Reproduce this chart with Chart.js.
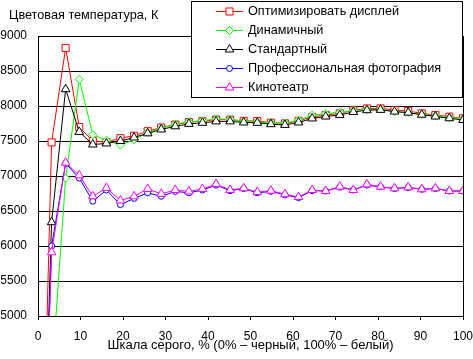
<!doctype html>
<html lang="ru">
  <head>
    <meta charset="utf-8">
    <title>Цветовая температура</title>
    <script src="https://cdn.jsdelivr.net/npm/chart.js@4.4.0/dist/chart.umd.min.js"></script>
    <style>
      body { margin: 0; background: #fff; }
    </style>
  </head>
  <body>
    <canvas id="tempChart" width="473" height="359"></canvas>

  <script>
    // grey level, % (0% - black, 100% - white)
    var grey = [0, 3.2, 6.5, 9.7, 12.9, 16.1, 19.4, 22.6, 25.8, 29.0, 32.3, 35.5, 38.7, 41.9, 45.2, 48.4,
                51.6, 54.8, 58.1, 61.3, 64.5, 67.7, 71.0, 74.2, 77.4, 80.6, 83.9, 87.1, 90.3, 93.5, 96.8, 100];

    var optimize = [0, 7480, 8830, 7700, 7500, 7485, 7540, 7575, 7640, 7692, 7735, 7770, 7783, 7805, 7805, 7788,
                    7785, 7762, 7752, 7788, 7845, 7870, 7895, 7940, 7965, 7965, 7943, 7928, 7895, 7870, 7848, 7824];
    var dynamic = [0, 4100, 6970, 8380, 7590, 7510, 7440, 7520, 7620, 7680, 7740, 7775, 7790, 7815, 7810, 7780,
                   7770, 7760, 7755, 7800, 7870, 7890, 7910, 7935, 7950, 7955, 7920, 7905, 7880, 7860, 7835, 7820];
    var standard = [0, 6340, 8240, 7630, 7450, 7465, 7500, 7550, 7610, 7665, 7710, 7745, 7760, 7780, 7780, 7765,
                    7760, 7740, 7730, 7765, 7822, 7850, 7872, 7915, 7940, 7945, 7920, 7905, 7875, 7850, 7825, 7800];
    var photo = [0, 6000, 7180, 6970, 6640, 6800, 6590, 6680, 6760, 6710, 6780, 6760, 6800, 6870, 6790, 6820,
                 6760, 6780, 6730, 6690, 6790, 6785, 6840, 6800, 6870, 6845, 6820, 6835, 6810, 6820, 6785, 6785];
    var cinema = [0, 5910, 7190, 7010, 6710, 6830, 6650, 6710, 6815, 6745, 6800, 6780, 6815, 6885, 6800, 6825,
                  6770, 6790, 6740, 6700, 6800, 6786, 6848, 6800, 6880, 6848, 6824, 6838, 6810, 6824, 6786, 6786];

    var seriesNames = ['Оптимизировать дисплей', 'Динамичный', 'Стандартный',
                       'Профессиональная фотография', 'Кинотеатр'];
    var yTicks = [5000, 5500, 6000, 6500, 7000, 7500, 8000, 8500, 9000];
    var xTicks = [0, 10, 20, 30, 40, 50, 60, 70, 80, 90, 100];
    var chartTitle = 'Цветовая температура, К';
    var xTitle = 'Шкала серого, % (0% – черный, 100% – белый)';

    var FONT = '"Liberation Sans", Arial, sans-serif';
    Chart.defaults.font.family = FONT;
    Chart.defaults.font.size = 12;
    Chart.defaults.color = '#000';

    function points(values){
        var out = [];
        for (var i = 0; i < grey.length; i++) {
            out.push({x: grey[i], y: values[i]});
        }
        return out;
    }

    function series(name, values, color, style, radius, order){
        return {
            label: name,
            data: points(values),
            borderColor: color,
            borderWidth: 1,
            tension: 0,
            fill: false,
            pointStyle: style,
            pointRadius: radius,
            pointHoverRadius: radius,
            pointBorderColor: color,
            pointBackgroundColor: '#fff',
            pointBorderWidth: 1,
            order: order
        };
    }

    // simple marker drawing for the legend box
    function marker(ctx, ds, x, y){
        var r = ds.pointRadius;
        ctx.beginPath();
        if (ds.pointStyle == 'rect') {
            var s = Math.SQRT1_2 * r;
            ctx.rect(x - s, y - s, 2 * s, 2 * s);
        } else if (ds.pointStyle == 'rectRot') {
            ctx.moveTo(x, y - r); ctx.lineTo(x + r, y); ctx.lineTo(x, y + r); ctx.lineTo(x - r, y);
            ctx.closePath();
        } else if (ds.pointStyle == 'triangle') {
            var w = r * Math.sin(Math.PI / 3);
            ctx.moveTo(x, y - r); ctx.lineTo(x + w, y + r / 2); ctx.lineTo(x - w, y + r / 2);
            ctx.closePath();
        } else {
            ctx.arc(x, y, r, 0, Math.PI * 2);
        }
        ctx.fillStyle = '#fff';
        ctx.fill();
        ctx.strokeStyle = ds.borderColor;
        ctx.lineWidth = 1;
        ctx.stroke();
    }

    var extras = {
        id: 'extras',
        beforeDatasetsDraw: function(chart){
            var ctx = chart.ctx, a = chart.chartArea;
            var xr = Math.round(a.right) + 0.5;
            ctx.save();
            ctx.strokeStyle = '#000';
            ctx.lineWidth = 1;
            ctx.beginPath();
            ctx.moveTo(xr, a.top);
            ctx.lineTo(xr, a.bottom);
            ctx.stroke();
            ctx.restore();
        },
        afterDraw: function(chart){
            var ctx = chart.ctx, a = chart.chartArea;
            ctx.save();
            ctx.fillStyle = '#000';
            ctx.textBaseline = 'alphabetic';

            // x axis title
            ctx.font = '13px ' + FONT;
            ctx.textAlign = 'center';
            ctx.fillText(xTitle, (a.left + a.right) / 2, 349);

            // chart title
            ctx.font = '12.7px ' + FONT;
            ctx.textAlign = 'left';
            ctx.fillText(chartTitle, 9, 19);

            // legend box
            ctx.fillStyle = '#fff';
            ctx.fillRect(191.5, 1.5, 271, 96);
            ctx.strokeStyle = '#000';
            ctx.lineWidth = 1;
            ctx.strokeRect(191.5, 1.5, 271, 96);

            var dsets = chart.data.datasets;
            for (var k = 0; k < dsets.length; k++) {
                var ds = dsets[k];
                var y = 11 + k * 19.1;
                ctx.strokeStyle = ds.borderColor;
                ctx.beginPath();
                ctx.moveTo(216, Math.round(y) + 0.5);
                ctx.lineTo(243, Math.round(y) + 0.5);
                ctx.stroke();
                marker(ctx, ds, 229.5, Math.round(y) + 0.5);
                ctx.fillStyle = '#000';
                ctx.textBaseline = 'middle';
                ctx.fillText(ds.label, 248, y);
            }
            ctx.restore();
        }
    };

    var ctx = document.getElementById('tempChart').getContext('2d');
    var tempChart = new Chart(ctx, {
        type: 'line',
        data: {
            datasets: [
                series(seriesNames[0], optimize, '#ff0000', 'rect', 5, 5),
                series(seriesNames[1], dynamic, '#00ff00', 'rectRot', 4, 4),
                series(seriesNames[2], standard, '#000000', 'triangle', 5, 3),
                series(seriesNames[3], photo, '#0000ff', 'circle', 3, 2),
                series(seriesNames[4], cinema, '#ff00ff', 'triangle', 5, 1)
            ]
        },
        options: {
            responsive: false,
            animation: false,
            layout: { padding: { left: 0, right: 10, top: 36, bottom: 0 } },
            plugins: {
                legend: { display: false },
                tooltip: { enabled: false }
            },
            scales: {
                x: {
                    type: 'linear',
                    min: 0,
                    max: 100,
                    afterBuildTicks: function(scale){
                        scale.ticks = xTicks.map(function(v){ return {value: v}; });
                    },
                    afterFit: function(scale){
                        scale.height = 43;
                        scale.paddingLeft = 0;
                        scale.paddingRight = 0;
                    },
                    ticks: {
                        padding: 10.5, maxRotation: 0, font: { size: 12, lineHeight: 1 },
                        callback: function(v){ return String(v); }
                    },
                    grid: { drawOnChartArea: false, drawTicks: true, tickLength: 4, color: '#000' },
                    border: { color: '#000' }
                },
                y: {
                    min: 5000,
                    max: 9000,
                    afterBuildTicks: function(scale){
                        scale.ticks = yTicks.map(function(v){ return {value: v}; });
                    },
                    afterFit: function(scale){ scale.width = 38; },
                    ticks: {
                        padding: 11, font: { size: 12 },
                        callback: function(v){ return String(v); }
                    },
                    grid: { drawTicks: false, color: '#000' },
                    border: { color: '#000' }
                }
            }
        },
        plugins: [extras]
    });
  </script>
  </body>
</html>
